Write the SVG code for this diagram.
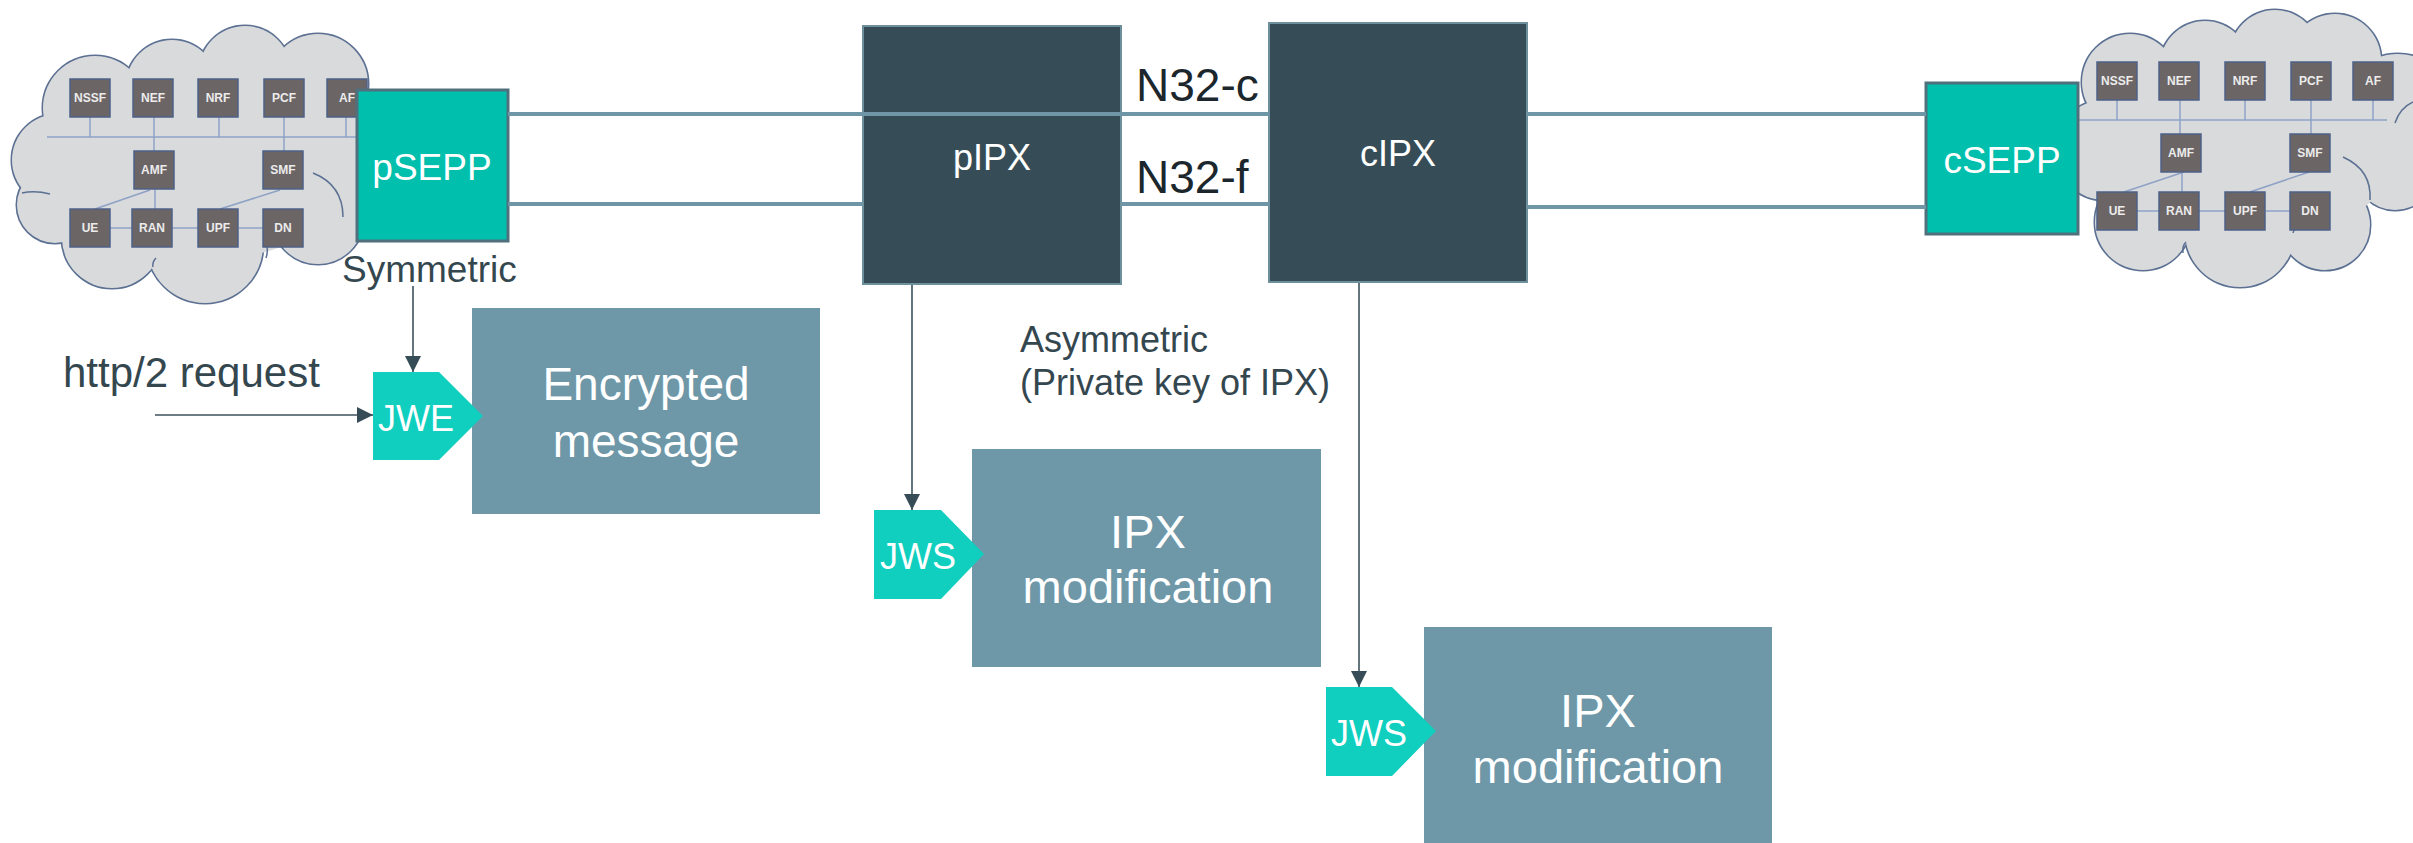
<svg xmlns="http://www.w3.org/2000/svg" xmlns:xlink="http://www.w3.org/1999/xlink" width="2413" height="843" viewBox="0 0 2413 843">
<style>
.nf{fill:#6b6566;stroke:#4d6288;stroke-width:1.5}
.nft{font-family:"Liberation Sans",Arial,sans-serif;font-weight:bold;font-size:12px;fill:#ececec;text-anchor:middle}
.nfl{fill:none;stroke:#8ea2c6;stroke-width:1.5}
.sepp{fill:#00bfad;stroke:#50707d;stroke-width:3}
.ipx{fill:#364d57;stroke:#6e8f9c;stroke-width:2}
.msg{fill:#6e97a8}
.tag{fill:#10cfbf}
.wt{font-family:"Liberation Sans",Arial,sans-serif;fill:#ffffff}
.dk{font-family:"Liberation Sans",Arial,sans-serif;fill:#34474f}
.n32{font-family:"Liberation Sans",Arial,sans-serif;fill:#1b272c;font-size:46px}
.link{stroke:#6f96a6;stroke-width:4;fill:none}
.arr{stroke:#3b525c;stroke-width:1.6;fill:none;marker-end:url(#ah)}
.inner{fill:none;stroke:#5b7092;stroke-width:1.5}
</style>
<defs>
<marker id="ah" markerUnits="userSpaceOnUse" markerWidth="16" markerHeight="16" refX="16" refY="8" orient="auto">
<path d="M0,0 L16,8 L0,16 Z" fill="#364d57"/>
</marker>
<g id="cl">
<circle cx="58" cy="160" r="46"/>
<circle cx="95" cy="108" r="52"/>
<circle cx="172" cy="86" r="46"/>
<circle cx="245" cy="72" r="46"/>
<circle cx="318" cy="84" r="50"/>
<circle cx="352" cy="148" r="52"/>
<circle cx="318" cy="218" r="46"/>
<circle cx="205" cy="245" r="58"/>
<circle cx="112" cy="238" r="50"/>
<circle cx="55" cy="205" r="38"/>
</g>
<g id="cr">
<circle cx="2105" cy="150" r="50"/>
<circle cx="2130" cy="82" r="48"/>
<circle cx="2205" cy="66" r="45"/>
<circle cx="2275" cy="55" r="45"/>
<circle cx="2335" cy="60" r="46"/>
<circle cx="2398" cy="112" r="58"/>
<circle cx="2395" cy="170" r="40"/>
<circle cx="2325" cy="225" r="45"/>
<circle cx="2240" cy="232" r="55"/>
<circle cx="2143" cy="222" r="48"/>
</g>
</defs>
<rect width="2413" height="843" fill="#ffffff"/>

<g id="cloud-left">
<use xlink:href="#cl" fill="none" stroke="#5b7092" stroke-width="3"/>
<use xlink:href="#cl" fill="#d9dadc" stroke="none"/>
<ellipse cx="205" cy="165" rx="150" ry="95" fill="#d9dadc"/>
<path class="inner" d="M313,173 Q343,185 343,217"/>
<path class="inner" d="M22,193 Q35,190 50,194"/>
<path class="inner" d="M153,267 Q152,262 156,258"/>
<path class="inner" d="M267,247 Q268,252 266,258"/>
<path class="nfl" d="M47,137 H357 M90,117 V137 M154,117 V151 M219,117 V137 M284,117 V151 M346,117 V137 M155,189 V209 M150,190 L95,209 M280,190 L220,209 M110,228 H132 M172,228 H198 M239,228 H263"/>
<g id="l-nssf"><rect class="nf" x="70" y="79" width="40" height="38"/><text class="nft" x="90" y="102">NSSF</text></g>
<g id="l-nef"><rect class="nf" x="133" y="79" width="40" height="38"/><text class="nft" x="153" y="102">NEF</text></g>
<g id="l-nrf"><rect class="nf" x="198" y="79" width="40" height="38"/><text class="nft" x="218" y="102">NRF</text></g>
<g id="l-pcf"><rect class="nf" x="264" y="79" width="40" height="38"/><text class="nft" x="284" y="102">PCF</text></g>
<g id="l-af"><rect class="nf" x="327" y="79" width="40" height="38"/><text class="nft" x="347" y="102">AF</text></g>
<g id="l-amf"><rect class="nf" x="134" y="151" width="40" height="38"/><text class="nft" x="154" y="174">AMF</text></g>
<g id="l-smf"><rect class="nf" x="263" y="151" width="40" height="38"/><text class="nft" x="283" y="174">SMF</text></g>
<g id="l-ue"><rect class="nf" x="70" y="209" width="40" height="38"/><text class="nft" x="90" y="232">UE</text></g>
<g id="l-ran"><rect class="nf" x="132" y="209" width="40" height="38"/><text class="nft" x="152" y="232">RAN</text></g>
<g id="l-upf"><rect class="nf" x="198" y="209" width="40" height="38"/><text class="nft" x="218" y="232">UPF</text></g>
<g id="l-dn"><rect class="nf" x="263" y="209" width="40" height="38"/><text class="nft" x="283" y="232">DN</text></g>
</g>

<g id="cloud-right">
<use xlink:href="#cr" fill="none" stroke="#5b7092" stroke-width="3"/>
<use xlink:href="#cr" fill="#d9dadc" stroke="none"/>
<ellipse cx="2245" cy="150" rx="150" ry="95" fill="#d9dadc"/>
<path class="inner" d="M2343,157 Q2372,170 2370,200"/>
<path class="inner" d="M2395,123 Q2400,108 2413,102"/>
<path class="inner" d="M2293,233 Q2296,226 2293,222"/>
<path class="inner" d="M2183,253 Q2182,246 2186,242"/>
<path class="nfl" d="M2078,120 H2387 M2117,100 V120 M2180,100 V134 M2245,100 V120 M2311,100 V134 M2373,100 V120 M2182,172 V192 M2184,172 L2124,192 M2309,172 L2250,192 M2137,211 H2159 M2199,211 H2225 M2266,211 H2290"/>
<g id="r-nssf"><rect class="nf" x="2097" y="62" width="40" height="38"/><text class="nft" x="2117" y="85">NSSF</text></g>
<g id="r-nef"><rect class="nf" x="2159" y="62" width="40" height="38"/><text class="nft" x="2179" y="85">NEF</text></g>
<g id="r-nrf"><rect class="nf" x="2225" y="62" width="40" height="38"/><text class="nft" x="2245" y="85">NRF</text></g>
<g id="r-pcf"><rect class="nf" x="2291" y="62" width="40" height="38"/><text class="nft" x="2311" y="85">PCF</text></g>
<g id="r-af"><rect class="nf" x="2353" y="62" width="40" height="38"/><text class="nft" x="2373" y="85">AF</text></g>
<g id="r-amf"><rect class="nf" x="2161" y="134" width="40" height="38"/><text class="nft" x="2181" y="157">AMF</text></g>
<g id="r-smf"><rect class="nf" x="2290" y="134" width="40" height="38"/><text class="nft" x="2310" y="157">SMF</text></g>
<g id="r-ue"><rect class="nf" x="2097" y="192" width="40" height="38"/><text class="nft" x="2117" y="215">UE</text></g>
<g id="r-ran"><rect class="nf" x="2159" y="192" width="40" height="38"/><text class="nft" x="2179" y="215">RAN</text></g>
<g id="r-upf"><rect class="nf" x="2225" y="192" width="40" height="38"/><text class="nft" x="2245" y="215">UPF</text></g>
<g id="r-dn"><rect class="nf" x="2290" y="192" width="40" height="38"/><text class="nft" x="2310" y="215">DN</text></g>
</g>

<g id="pSEPP"><rect class="sepp" x="357" y="90" width="151" height="151"/><text class="wt" x="432" y="180" font-size="37" text-anchor="middle">pSEPP</text></g>
<g id="cSEPP"><rect class="sepp" x="1926" y="83" width="152" height="151"/><text class="wt" x="2002" y="173" font-size="37" text-anchor="middle">cSEPP</text></g>
<g id="pIPX"><rect class="ipx" x="863" y="26" width="258" height="258"/><text class="wt" x="992" y="170" font-size="36" text-anchor="middle">pIPX</text></g>
<g id="cIPX"><rect class="ipx" x="1269" y="23" width="258" height="259"/><text class="wt" x="1398" y="166" font-size="36" text-anchor="middle">cIPX</text></g>

<g id="encrypted"><rect class="msg" x="472" y="308" width="348" height="206"/><text class="wt" x="646" y="400" font-size="46" text-anchor="middle">Encrypted</text><text class="wt" x="646" y="457" font-size="46" text-anchor="middle">message</text></g>
<g id="ipxmod1"><rect class="msg" x="972" y="449" width="349" height="218"/><text class="wt" x="1148" y="548" font-size="47" text-anchor="middle">IPX</text><text class="wt" x="1148" y="603" font-size="47" text-anchor="middle">modification</text></g>
<g id="ipxmod2"><rect class="msg" x="1424" y="627" width="348" height="220"/><text class="wt" x="1598" y="727" font-size="47" text-anchor="middle">IPX</text><text class="wt" x="1598" y="783" font-size="47" text-anchor="middle">modification</text></g>

<g id="jwe"><path class="tag" d="M373,372 H439 L483,416 L439,460 H373 Z"/><text class="wt" x="378" y="431" font-size="36">JWE</text></g>
<g id="jws1"><path class="tag" d="M874,510 H941 L984,554 L941,599 H874 Z"/><text class="wt" x="880" y="569" font-size="36">JWS</text></g>
<g id="jws2"><path class="tag" d="M1326,687 H1392 L1436,731 L1392,776 H1326 Z"/><text class="wt" x="1331" y="746" font-size="36">JWS</text></g>

<g id="labels">
<text class="n32" x="1136" y="101">N32-c</text>
<text class="n32" x="1136" y="193">N32-f</text>
<text class="dk" x="342" y="282" font-size="37">Symmetric</text>
<text class="dk" x="63" y="387" font-size="42">http/2 request</text>
<text class="dk" x="1020" y="352" font-size="36">Asymmetric</text>
<text class="dk" x="1020" y="395" font-size="36">(Private key of IPX)</text>
</g>

<g id="connectors">
<path class="link" d="M508,114 H1269 M1527,114 H1926"/>
<path class="link" d="M508,204 H863 M1121,204 H1269 M1527,207 H1926"/>
<path class="arr" d="M413,286 V372"/>
<path class="arr" d="M155,415 H373"/>
<path class="arr" d="M912,285 V510"/>
<path class="arr" d="M1359,283 V687"/>
</g>
</svg>
